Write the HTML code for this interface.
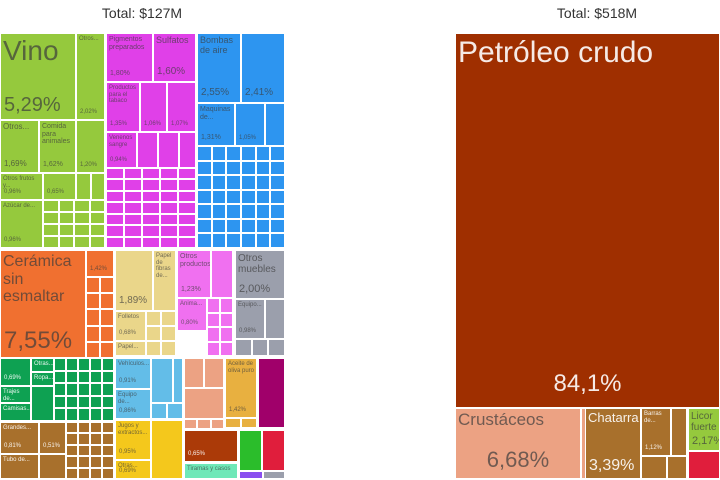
<!DOCTYPE html>
<html><head><meta charset="utf-8">
<style>
body{margin:0;width:720px;height:480px;background:#fff;overflow:hidden;font-family:"Liberation Sans",sans-serif;position:relative}
.t{position:absolute;box-sizing:border-box;border:1px solid #fff;overflow:hidden;color:rgba(60,60,60,.7);font-size:6px;line-height:1.1;padding:2px}
.t .p{position:absolute;bottom:3px;left:3px}
.w{color:rgba(255,255,255,.9)}
.title{position:absolute;top:5px;font-size:14px;color:#333;text-align:center;width:240px}
</style></head><body>
<div class="title" style="left:22px">Total: $127M</div>
<div class="title" style="left:477px">Total: $518M</div>
<div id="root"></div>
<script>
// tiles: [name,x,y,w,h,color,label,pct,fontsize,white]
const tiles=[
["vino",0,33,76,87,"#95c93d","Vino","5,29%",28],
["otros-green",76,33,29,87,"#95c93d","Otros...","2,02%",6],
["otros-green-2",0,120,39,53,"#95c93d","Otros...","1,69%",8],
["comida-animales",39,120,37,53,"#95c93d","Comida para animales","1,62%",7],
["green-122",76,120,29,53,"#95c93d","","1,20%",6],
["otros-frutos",0,173,43,27,"#95c93d","Otros frutos y...","0,96%",6],
["green-065",43,173,33,27,"#95c93d","","0,65%",6],
["green-a",76,173,15,27,"#95c93d","","",6],
["green-b",91,173,14,27,"#95c93d","","",6],
["azucar",0,200,43,48,"#95c93d","Azúcar de...","0,96%",6],
["pigmentos",106,33,47,49,"#e040e8","Pigmentos preparados","1,80%",7],
["sulfatos",153,33,43,49,"#e040e8","Sulfatos","1,60%",9],
["productos-tabaco",106,82,34,50,"#e040e8","Productos para el tabaco","1,35%",6],
["mag-106",140,82,27,50,"#e040e8","","1,06%",6],
["mag-107",167,82,29,50,"#e040e8","","1,07%",6],
["venenos",106,132,31,36,"#e040e8","Venenos sangre","0,94%",6],
["mag-c",137,132,21,36,"#e040e8","","",6],
["mag-d",158,132,21,36,"#e040e8","","",6],
["mag-e",179,132,17,36,"#e040e8","","",6],
["bombas-aire",197,33,44,70,"#2d95f0","Bombas de aire","2,55%",9],
["blue-241",241,33,44,70,"#2d95f0","","2,41%",9],
["maquinas",197,103,38,43,"#2d95f0","Maquinas de...","1,31%",7],
["blue-105",235,103,30,43,"#2d95f0","","1,05%",6],
["blue-c",265,103,20,43,"#2d95f0","","",6],
["ceramica",0,250,86,108,"#f07030","Cerámica sin esmaltar","7,55%",16],
["orange-142",86,250,28,27,"#f07030","","1,42%",6],
["papel-tan",115,250,38,61,"#ead68a","","1,89%",9],
["papel-fibras",153,250,23,61,"#ead68a","Papel de fibras de...","",6],
["folletos",115,311,31,30,"#ead68a","Folletos","0,68%",6],
["papel-2",115,341,31,15,"#ead68a","Papel...","",6],
["otros-productos",177,250,34,48,"#f070f0","Otros productos...","1,23%",7],
["pink-b",211,250,22,48,"#f070f0","","",6],
["animo",177,298,30,33,"#f070f0","Anima...","0,80%",6],
["otros-muebles",235,250,50,49,"#9b9fac","Otros muebles","2,00%",10],
["equipo-gray",235,299,30,40,"#9b9fac","Equipo...","0,98%",6],
["gray-b",265,299,20,40,"#9b9fac","","",6],
["dg-069",0,358,31,28,"#0ea152","","0,69%",6,1],
["dg-otros",31,358,23,14,"#0ea152","Otras...","",6,1],
["dg-ropa",31,372,23,14,"#0ea152","Ropa...","",6,1],
["trajes",0,386,31,17,"#0ea152","Trajes de...","",6,1],
["camisas",0,403,31,18,"#0ea152","Camisas...","",6,1],
["dg-c",31,386,23,35,"#0ea152","","",6,1],
["grandes",0,422,39,32,"#a8702c","Grandes...","0,81%",6,1],
["br-051",39,422,27,32,"#a8702c","","0,51%",6,1],
["tubo",0,454,39,25,"#a8702c","Tubo de...","",6,1],
["br-b",39,454,27,25,"#a8702c","","",6,1],
["vehiculos",115,358,36,31,"#63bde8","Vehículos...","0,91%",6],
["equipo-blue",115,389,36,30,"#63bde8","Equipo de...","0,86%",6],
["lb-b",151,358,22,45,"#63bde8","","",6],
["lb-c",173,358,10,45,"#63bde8","","",6],
["jugos",115,420,36,40,"#f4c81c","Jugos y extractos...","0,95%",6],
["otras-gold",115,460,36,19,"#f4c81c","Otras...","0,69%",6],
["gold-b",151,420,32,59,"#f4c81c","","",6],
["salmon-a",184,358,20,30,"#eca283","","",6],
["salmon-b",204,358,20,30,"#eca283","","",6],
["salmon-c",184,388,40,31,"#eca283","","",6],
["aceite",225,358,32,60,"#e8b040","Aceite de oliva puro","1,42%",6],
["purple-a",258,358,27,70,"#a0006a","","",6],
["redbrown",184,430,54,32,"#ab3a08","","0,65%",6,1],
["mint",184,463,54,16,"#6ee8b8","Tiramas y casos","",6],
["green2",239,430,23,41,"#2bbd2b","","",6],
["red2",262,430,23,41,"#e01e3c","","",6],
["violet",239,471,24,8,"#8a4ef0","","",6],
["gray2",263,471,22,8,"#9b9fac","","",6],
["petroleo",455,33,265,375,"#9f2f00","Petróleo crudo","84,1%",30,1],
["crustaceos",455,408,126,71,"#eca283","Crustáceos","6,68%",17],
["salmon-strip",581,408,4,71,"#eca283","","",6],
["chatarra",585,408,56,71,"#a8702c","Chatarra","3,39%",13,1],
["barras",641,408,30,48,"#a8702c","Barras de...","1,12%",6,1],
["br-r",671,408,16,48,"#a8702c","","",6,1],
["br-s1",641,456,26,23,"#a8702c","","",6,1],
["br-s2",667,456,20,23,"#a8702c","","",6,1],
["licor",688,408,32,43,"#95c93d","Licor fuerte","2,17%",10],
["red-right",688,451,32,28,"#e01e3c","","",6]
];
// small-grid fill regions: [name,x,y,w,h,color,cols,rows]
const grids=[
["green-grid",43,200,62,48,"#95c93d",4,4],
["magenta-grid",106,168,90,80,"#e040e8",5,7],
["blue-grid",197,146,88,102,"#2d95f0",6,7],
["orange-grid",86,277,28,81,"#f07030",2,5],
["tan-grid",146,311,30,45,"#ead68a",2,3],
["pink-grid",207,298,26,58,"#f070f0",2,4],
["gray-grid",235,339,50,17,"#9b9fac",3,1],
["dg-grid",54,358,60,63,"#0ea152",5,5],
["br-grid",66,422,48,57,"#a8702c",4,5],
["lb-grid",151,403,32,16,"#63bde8",2,1],
["aceite-grid",225,418,32,10,"#e8b040",2,1],
["salmon-grid",184,419,40,10,"#eca283",3,1]
];
const root=document.getElementById('root');
tiles.forEach(t=>{
  if(t[4]<=0)return;
  const d=document.createElement('div');
  
  
  d.className='t'+(t[9]?' w':'');
  d.style.cssText=`left:${t[1]}px;top:${t[2]}px;width:${t[3]}px;height:${t[4]}px;background:${t[5]};font-size:${t[8]}px`;
  if(t[6]){const l=document.createElement('div');l.textContent=t[6];d.appendChild(l);}
  if(t[7]){const p=document.createElement('div');p.className='p';p.textContent=t[7];
    let fs=t[8]>=9?Math.min(t[8]*1.1,26):t[8];
    if(t[0]==='petroleo'){fs=24;p.style.left='0';p.style.right='0';p.style.textAlign='center';p.style.bottom='10px';}
    if(t[0]==='vino'){fs=20;}
    if(t[0]==='ceramica'){fs=24;}
    if(t[0]==='crustaceos'){fs=22;p.style.left='0';p.style.right='0';p.style.textAlign='center';p.style.bottom='6px';}
    if(t[0]==='chatarra'){fs=16;}
    p.style.fontSize=fs+'px';d.appendChild(p);}
  root.appendChild(d);
});
grids.forEach(g=>{
  const cw=g[3]/g[6],ch=g[4]/g[7];
  for(let r=0;r<g[7];r++)for(let c=0;c<g[6];c++){
    const d=document.createElement('div');
    
    
    d.className='t';
    d.style.cssText=`left:${g[1]+c*cw}px;top:${g[2]+r*ch}px;width:${cw}px;height:${ch}px;background:${g[5]}`;
    root.appendChild(d);
  }
});
</script>
</body></html>
